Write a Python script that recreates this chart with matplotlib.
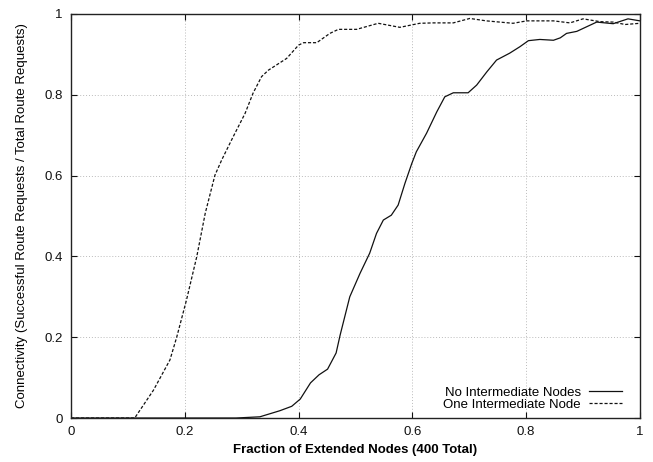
import matplotlib
matplotlib.use("Agg")
import matplotlib.pyplot as plt

plt.rcParams["font.family"] = ["Liberation Sans", "DejaVu Sans"]

# No Intermediate Nodes (solid)
none_x = [0.0, 0.29, 0.332, 0.367, 0.388, 0.403, 0.421, 0.436, 0.451, 0.466,
          0.473, 0.490, 0.508, 0.525, 0.537, 0.549, 0.563, 0.575, 0.587, 0.599,
          0.607, 0.625, 0.643, 0.657, 0.672, 0.698, 0.713, 0.731, 0.748, 0.771,
          0.789, 0.804, 0.824, 0.848, 0.860, 0.871, 0.889, 0.924, 0.953, 0.979, 1.0]
none_y = [0.0, 0.0, 0.003, 0.018, 0.029, 0.047, 0.087, 0.107, 0.121, 0.161,
          0.205, 0.300, 0.358, 0.408, 0.457, 0.490, 0.502, 0.527, 0.581, 0.630,
          0.659, 0.705, 0.758, 0.795, 0.805, 0.805, 0.824, 0.857, 0.886, 0.903,
          0.919, 0.934, 0.937, 0.935, 0.941, 0.952, 0.957, 0.980, 0.976, 0.988, 0.983]

# One Intermediate Node (dashed)
one_x = [0.0, 0.112, 0.145, 0.174, 0.186, 0.203, 0.221, 0.236, 0.253, 0.265,
         0.285, 0.306, 0.320, 0.335, 0.347, 0.379, 0.400, 0.409, 0.432, 0.455,
         0.470, 0.502, 0.540, 0.578, 0.613, 0.637, 0.672, 0.701, 0.730, 0.777,
         0.801, 0.848, 0.877, 0.900, 0.930, 0.953, 0.974, 1.0]
one_y = [0.0, 0.0, 0.069, 0.144, 0.201, 0.292, 0.399, 0.507, 0.601, 0.639,
         0.696, 0.754, 0.804, 0.845, 0.861, 0.890, 0.923, 0.929, 0.929, 0.952,
         0.962, 0.962, 0.977, 0.967, 0.977, 0.978, 0.978, 0.989, 0.983, 0.977,
         0.983, 0.983, 0.978, 0.988, 0.981, 0.980, 0.974, 0.977]

ticks = [0, 0.2, 0.4, 0.6, 0.8, 1]
tick_labels = ["0", "0.2", "0.4", "0.6", "0.8", "1"]

fig = plt.figure(figsize=(6.53, 4.62), dpi=100)
ax = fig.add_axes([0.1087, 0.0952, 0.8713, 0.8745])

ax.plot(none_x, none_y, color="#111111", lw=0.9, label="No Intermediate Nodes")
ax.plot(one_x, one_y, color="#111111", lw=0.9, linestyle=(0, (2.5, 1.5)),
        label="One Intermediate Node")

ax.set_xlim(0, 1)
ax.set_ylim(0, 1)
ax.set_xticks(ticks)
ax.set_xticklabels(tick_labels)
ax.set_yticks(ticks)
ax.set_yticklabels(tick_labels)
ax.tick_params(direction="in", length=4, width=0.8, top=True, right=True,
               labelsize=9.5, pad=6, colors="#111111")
ax.grid(linestyle=(0, (1, 2)), color="#bbbbbb", linewidth=0.7)
for s in ax.spines.values():
    s.set_linewidth(1.0)
    s.set_color("#222222")

ax.set_xlabel("Fraction of Extended Nodes (400 Total)", fontsize=9.5,
              fontweight="bold", labelpad=4)
ax.set_ylabel("Connectivity (Successful Route Requests / Total Route Requests)",
              fontsize=9.5, labelpad=12)

ax.legend(loc="lower right", bbox_to_anchor=(0.97, 0.015), frameon=False,
          markerfirst=False, fontsize=9.5, handlelength=2.5, handletextpad=0.6,
          labelspacing=-0.05, borderpad=0.1, borderaxespad=0)

fig.savefig("out.png", dpi=100)
